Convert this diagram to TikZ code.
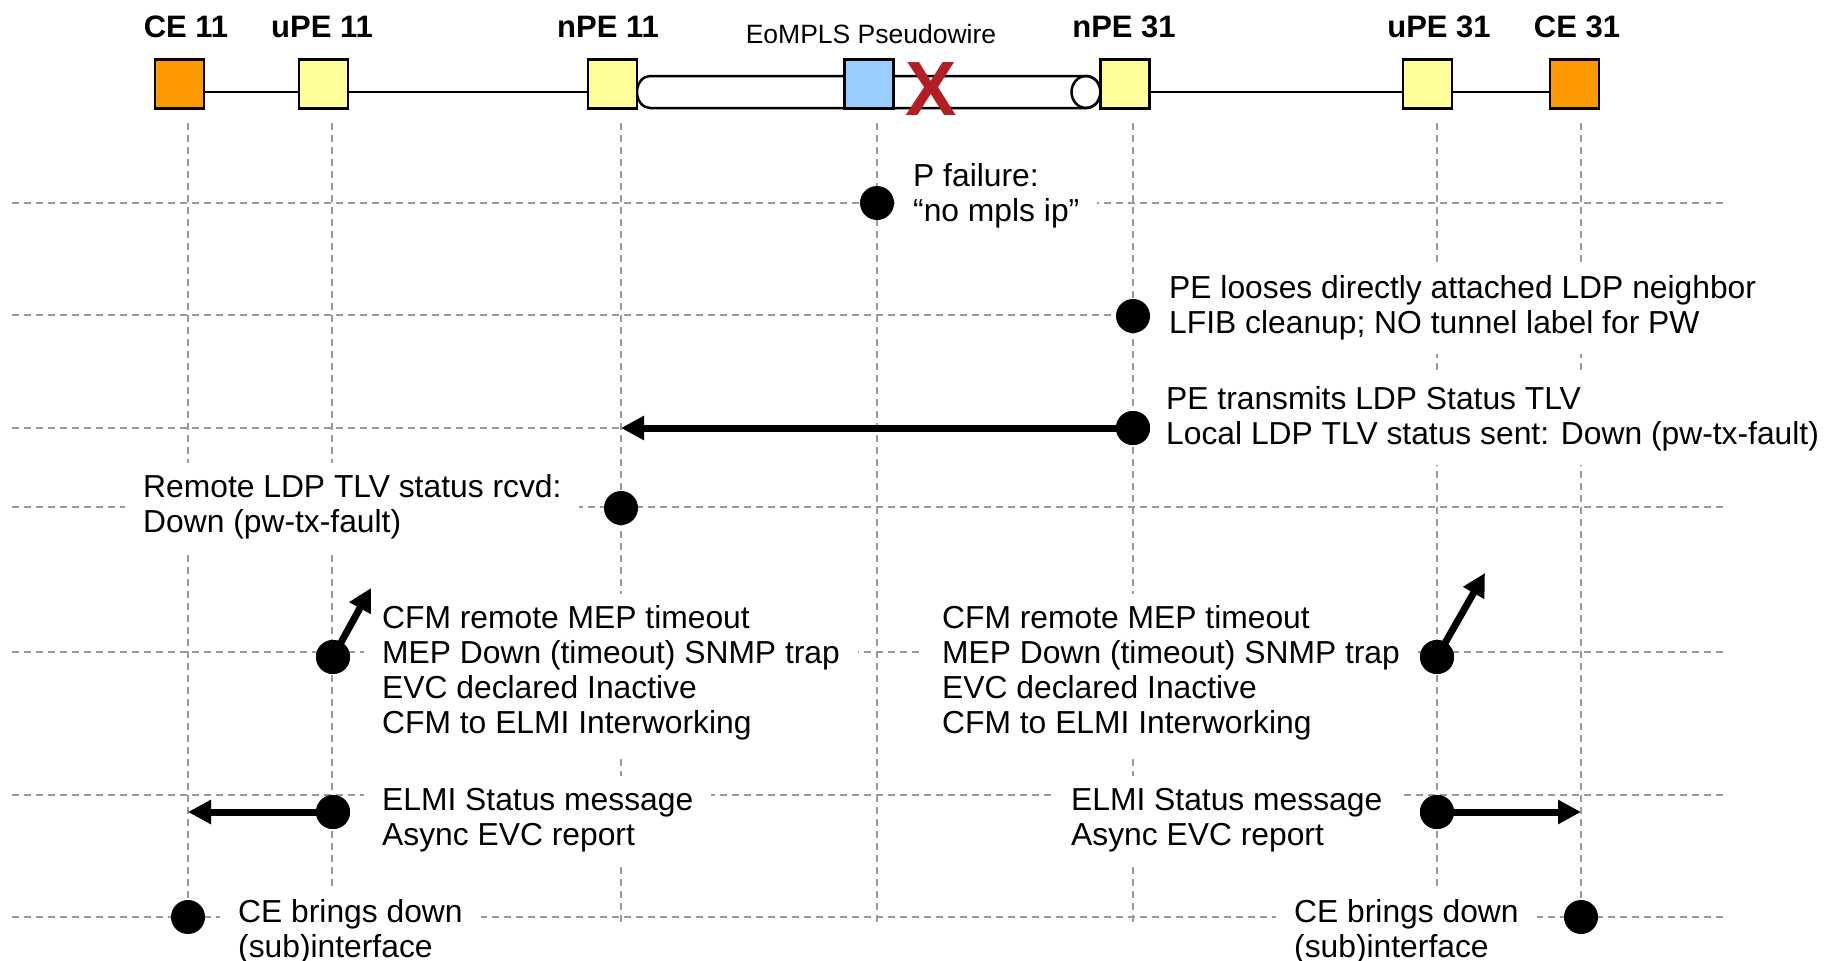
\documentclass[tikz,border=0pt]{standalone}
\usepackage{fontspec}
\setmainfont{Liberation Sans}
\usetikzlibrary{arrows.meta}
\definecolor{ceorange}{HTML}{FF9900}
\definecolor{peyellow}{HTML}{FFFF99}
\definecolor{pblue}{HTML}{99CCFF}
\definecolor{gridgray}{HTML}{9A9A9A}
\definecolor{failred}{HTML}{B21E23}
\newcommand\evfont{\fontsize{31.8}{35}\selectfont}
\newcommand\lines[1]{\begin{tabular}[t]{@{}l@{}}#1\end{tabular}}

\begin{document}
\begin{tikzpicture}[x=1pt,y=-1pt,
  dev/.style={draw, line width=2.5pt, minimum width=49pt, minimum height=49pt, inner sep=0pt},
  devlabel/.style={font=\fontsize{31}{35}\selectfont\bfseries, anchor=base, inner sep=0pt},
  link/.style={line width=2.5pt},
  grid/.style={gridgray, line width=2pt, dash pattern=on 7pt off 5pt},
  event/.style={circle, fill=black, minimum size=34pt, inner sep=0pt},
  note/.style={fill=white, anchor=base west, inner xsep=18pt, inner ysep=10pt, font=\evfont},
  msg/.style={line width=7pt, -{Triangle[length=23pt,width=23pt]}},
]
\useasboundingbox (0,0) rectangle (1842,961);

% time rows and lifelines
\foreach \y in {203,315,428,507,652,795,917}
  \draw[grid] (12,\y) -- (1727,\y);
\foreach \x in {188,332,621,877,1133,1437,1581}
  \draw[grid] (\x,123) -- (\x,923);

% event descriptions
\node[note] (n1) at (895,186) {\lines{P failure:\\“no mpls ip”}};
\node[note] (n2) at (1151,298) {\lines{PE looses directly attached LDP neighbor\\LFIB cleanup; NO tunnel label for PW}};
\node[note] (n3) at (1148,409) {\lines{PE transmits LDP Status TLV\\Local LDP TLV status sent: Down (pw-tx-fault)}};
\node[note] (n4) at (125,497) {\lines{Remote LDP TLV status rcvd:\\Down (pw-tx-fault)}};
\node[note] (n5) at (364,628) {\lines{CFM remote MEP timeout\\MEP Down (timeout) SNMP trap\\EVC declared Inactive\\CFM to ELMI Interworking}};
\node[note] (n6) at (924,628) {\lines{CFM remote MEP timeout\\MEP Down (timeout) SNMP trap\\EVC declared Inactive\\CFM to ELMI Interworking}};
\node[note] (n7) at (364,810) {\lines{ELMI Status message\\Async EVC report}};
\node[note] (n8) at (1053,810) {\lines{ELMI Status message\\Async EVC report}};
\node[note] (n9) at (220,922) {\lines{CE brings down\\(sub)interface}};
\node[note] (n10) at (1276,922) {\lines{CE brings down\\(sub)interface}};

% events
\node[event] (e1) at (877,203) {};
\node[event] (e2) at (1133,316) {};
\node[event] (e3) at (1133,428) {};
\node[event] (e4) at (621,508) {};
\node[event] (e5) at (333,657) {};
\node[event] (e6) at (1437,657) {};
\node[event] (e7) at (333,812) {};
\node[event] (e8) at (1437,812) {};
\node[event] (e9) at (188,917) {};
\node[event] (e10) at (1581,917) {};

% messages
\coordinate (t3) at (621,428);
\coordinate (t5) at (371,588);
\coordinate (t6) at (1485,573);
\coordinate (t7) at (188,812);
\coordinate (t8) at (1581,812);
\draw[msg] (e3.center) -- (t3);
\draw[msg] (e5.center) -- (t5);
\draw[msg] (e6.center) -- (t6);
\draw[msg] (e7.center) -- (t7);
\draw[msg] (e8.center) -- (t8);
\foreach \e in {e3,e5,e6,e7,e8}
  \fill (\e) circle[radius=17pt];

% pseudowire tube
\draw[link, fill=white] (650,76) -- (1086,76)
  arc[start angle=-90, end angle=90, x radius=14.5, y radius=16]
  -- (650,108)
  arc[start angle=90, end angle=270, x radius=13, y radius=16] -- cycle;
\draw[link] (1086,92) ellipse[x radius=14.5, y radius=16];

% devices
\node[dev, fill=ceorange] (ce11) at (179.5,84) {};
\node[dev, fill=peyellow] (upe11) at (323.5,84) {};
\node[dev, fill=peyellow] (npe11) at (612.5,84) {};
\node[dev, fill=pblue] (p) at (869,84) {};
\node[dev, fill=peyellow] (npe31) at (1125,84) {};
\node[dev, fill=peyellow] (upe31) at (1427.5,84) {};
\node[dev, fill=ceorange] (ce31) at (1574.5,84) {};

\draw[link] ([yshift=-8pt]ce11.east) -- ([yshift=-8pt]upe11.west);
\draw[link] ([yshift=-8pt]upe11.east) -- ([yshift=-8pt]npe11.west);
\draw[link] ([yshift=-8pt]npe31.east) -- ([yshift=-8pt]upe31.west);
\draw[link] ([yshift=-8pt]upe31.east) -- ([yshift=-8pt]ce31.west);

% failure mark
\node[text=failred, font=\fontsize{77}{80}\selectfont\bfseries, inner sep=0pt] (fail) at (931,89.5) {X};

% labels
\node[devlabel] (lce11) at (186,37) {CE 11};
\node[devlabel] (lupe11) at (322,37) {uPE 11};
\node[devlabel] (lnpe11) at (608,37) {nPE 11};
\node[devlabel] (lnpe31) at (1124,37) {nPE 31};
\node[devlabel] (lupe31) at (1439,37) {uPE 31};
\node[devlabel] (lce31) at (1577,37) {CE 31};
\node[anchor=base, inner sep=0pt, font=\fontsize{26.5}{30}\selectfont] (pw) at (871,43) {EoMPLS Pseudowire};
\end{tikzpicture}
\end{document}
